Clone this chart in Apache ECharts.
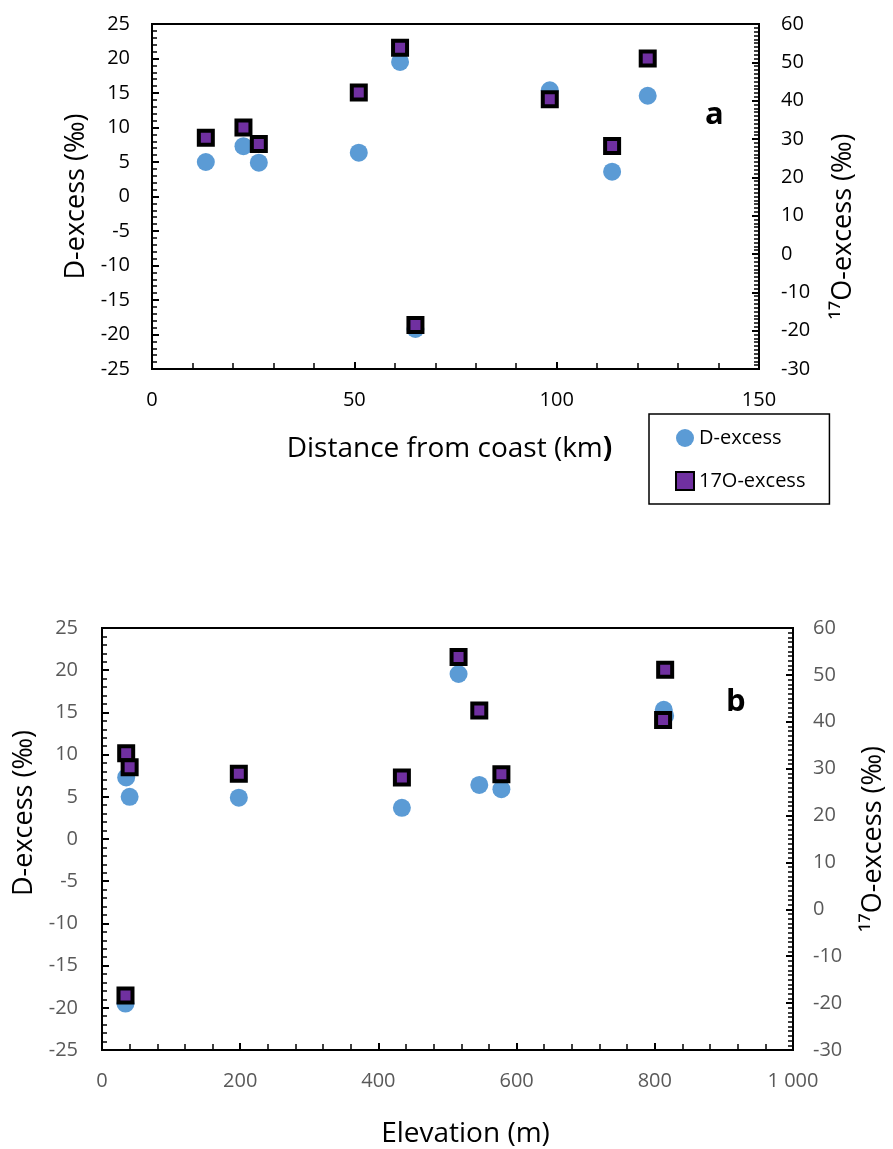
<!DOCTYPE html>
<html lang="en">
<head>
<meta charset="UTF-8">
<title>D-excess and 17O-excess</title>
<script src="https://cdn.jsdelivr.net/npm/echarts@6/dist/echarts.min.js"></script>
</head>
<body style="margin:0;background:#fff">
<div id="main" style="width: 893px;height: 1149px;"></div>
<script>
// panel a: distance from coast (km)
var distA = [13.3, 22.6, 26.4, 51.1, 61.3, 65.1, 98.3, 113.7, 122.5];
var dexA = [5.0, 7.3, 4.9, 6.35, 19.5, -19.2, 15.4, 3.6, 14.6];
var o17A = [30.3, 33.0, 28.7, 42.1, 53.8, -18.5, 40.4, 28.2, 51.0];

// panel b: elevation (m)
var elevDexB = [35, 40, 198, 434, 516, 546, 578, 813, 815, 34];
var dexB = [7.3, 5.0, 4.9, 3.7, 19.55, 6.4, 5.9, 15.3, 14.6, -19.5];
var elevO17B = [35, 40, 198, 434, 516, 546, 578, 812, 815, 34];
var o17B = [33.3, 30.3, 28.9, 28.1, 53.8, 42.4, 28.8, 40.4, 51.1, -18.4];

var FONT = 'Open Sans';
var BLUE = '#5B9BD5';
var PURPLE = '#7030A0';

function pairs(xs, ys) {
  return xs.map(function (x, i) { return [x, ys[i]]; });
}

function yAx(grid, pos, min, max, step, minor, name, labelColor, labelMargin, nameGap, namePad) {
  return {
    type: 'value', gridIndex: grid, position: pos,
    min: min, max: max, interval: step,
    name: name, nameLocation: 'middle', nameGap: nameGap,
    nameTextStyle: { fontFamily: FONT, fontSize: 27, color: '#000', padding: namePad },
    axisLine: { show: true, onZero: false, lineStyle: { color: '#000', width: 2 } },
    axisTick: { show: true, inside: true, length: 7, lineStyle: { color: '#000', width: 2 } },
    minorTick: { show: true, splitNumber: minor, length: 5, lineStyle: { color: '#000', width: 1.5 } },
    axisLabel: { fontFamily: FONT, fontSize: 20, color: labelColor, margin: labelMargin },
    splitLine: { show: false }
  };
}

function xAx(grid, max, step, name, labelColor, nameGap, namePad, fmt) {
  return {
    type: 'value', gridIndex: grid, min: 0, max: max, interval: step,
    name: name, nameLocation: 'middle', nameGap: nameGap,
    nameTextStyle: {
      fontFamily: FONT, fontSize: 28, color: '#000', padding: namePad,
      rich: { b: { fontFamily: FONT, fontSize: 28, fontWeight: 'bold', color: '#000' } }
    },
    axisLine: { show: true, onZero: false, lineStyle: { color: '#000', width: 2 } },
    axisTick: { show: true, inside: true, length: 7, lineStyle: { color: '#000', width: 2 } },
    minorTick: { show: true, splitNumber: 5, length: 6, lineStyle: { color: '#000', width: 1.5 } },
    axisLabel: { fontFamily: FONT, fontSize: 20, color: labelColor, margin: 21, formatter: fmt },
    splitLine: { show: false }
  };
}

var circleStyle = { color: BLUE, opacity: 1 };
var squareStyle = { color: PURPLE, borderColor: '#000', borderWidth: 4, opacity: 1 };

var chart = echarts.init(document.getElementById('main'));
var option = {
  animation: false,
  backgroundColor: '#fff',
  title: [
    { text: 'a', left: 700, top: 95, textStyle: { fontFamily: FONT, fontSize: 31, fontWeight: 'bold', color: '#000' } },
    { text: 'b', left: 721, top: 682, textStyle: { fontFamily: FONT, fontSize: 31, fontWeight: 'bold', color: '#000' } }
  ],
  grid: [
    { left: 152, top: 24, width: 607, height: 345, show: true, borderColor: '#000', borderWidth: 2, outerBoundsMode: 'none' },
    { left: 102, top: 628, width: 691, height: 422, show: true, borderColor: '#000', borderWidth: 2, outerBoundsMode: 'none' }
  ],
  legend: {
    data: ['D-excess', '17O-excess'],
    orient: 'vertical',
    left: 649, top: 414,
    padding: [14, 24, 13, 26],
    itemGap: 23,
    itemWidth: 18, itemHeight: 18,
    borderColor: '#000', borderWidth: 1.5,
    textStyle: { fontFamily: FONT, fontSize: 20, color: '#000' }
  },
  xAxis: [
    xAx(0, 150, 50, 'Distance from coast (km{b|)}', '#000', 66, [0, 12, 0, 0]),
    xAx(1, 1000, 200, 'Elevation (m)', '#595959', 70, [0, 0, 0, 36], function (v) {
      return v >= 1000 ? '1 000' : String(v);
    })
  ],
  yAxis: [
    yAx(0, 'left', -25, 25, 5, 5, 'D-excess (‰)', '#000', 22, 58, 0),
    yAx(0, 'right', -30, 60, 10, 10, '¹⁷O-excess (‰)', '#000', 22, 71, [0, 60, 0, 0]),
    yAx(1, 'left', -25, 25, 5, 5, 'D-excess (‰)', '#595959', 24, 32, [0, 0, 0, 52]),
    yAx(1, 'right', -30, 60, 10, 10, '¹⁷O-excess (‰)', '#595959', 20, 67, 0)
  ],
  series: [
    {
      name: 'D-excess', type: 'scatter', xAxisIndex: 0, yAxisIndex: 0,
      symbol: 'circle', symbolSize: 18, itemStyle: circleStyle,
      data: pairs(distA, dexA), z: 2
    },
    {
      name: '17O-excess', type: 'scatter', xAxisIndex: 0, yAxisIndex: 1,
      symbol: 'rect', symbolSize: 14, itemStyle: squareStyle,
      data: pairs(distA, o17A), z: 3
    },
    {
      name: 'D-excess', type: 'scatter', xAxisIndex: 1, yAxisIndex: 2,
      symbol: 'circle', symbolSize: 18, itemStyle: circleStyle,
      data: pairs(elevDexB, dexB), z: 2
    },
    {
      name: '17O-excess', type: 'scatter', xAxisIndex: 1, yAxisIndex: 3,
      symbol: 'rect', symbolSize: 14, itemStyle: squareStyle,
      data: pairs(elevO17B, o17B), z: 3
    }
  ]
};
chart.setOption(option);
</script>
</body>
</html>
